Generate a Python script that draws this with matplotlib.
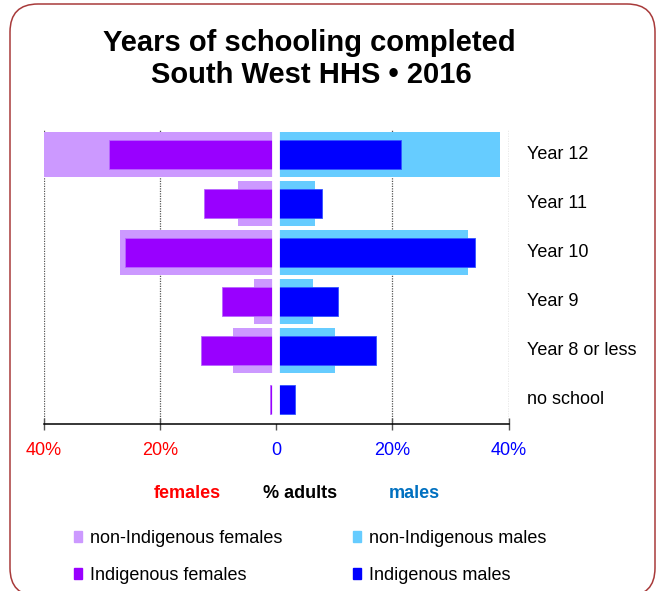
import numpy as np
import matplotlib.pyplot as plt
from matplotlib.patches import Patch, FancyBboxPatch

plt.rcParams['font.family'] = ['Liberation Sans', 'DejaVu Sans']

levels = ['Year 12', 'Year 11', 'Year 10', 'Year 9', 'Year 8 or less', 'no school']
nonind_f = [40.0, 6.5, 26.9, 3.8, 7.5, 0.0]
ind_f = [28.8, 12.4, 26.0, 9.4, 13.0, 1.0]
nonind_m = [38.5, 6.7, 33.0, 6.4, 10.1, 0.0]
ind_m = [21.4, 7.8, 34.2, 10.6, 17.1, 3.3]

tick_vals = [-40, -20, 0, 20, 40]
tick_text = ['40%', '20%', '0', '20%', '40%']
tick_cols = ['#FF0000', '#FF0000', '#0000FF', '#0000FF', '#0000FF']

c_nif = '#CC99FF'
c_if = '#9900FF'
c_nim = '#66CCFF'
c_im = '#0000FF'

fs = 13

fig = plt.figure(figsize=(6.63, 5.91), dpi=100)
ax = fig.add_axes([43.7/663, 1-424.3/591, 465/663, 294.5/591])

y = np.arange(len(levels))
ax.barh(y, -np.array(nonind_f), height=0.91, color=c_nif, zorder=2)
ax.barh(y, nonind_m, height=0.91, color=c_nim, zorder=2)
ax.barh(y, -np.array(ind_f), height=0.59, color=c_if, edgecolor='#B966FF', lw=0.6, zorder=2.1)
ax.barh(y, ind_m, height=0.59, color=c_im, edgecolor='#3355FF', lw=0.6, zorder=2.1)
ax.axvline(0, color='white', lw=5.6, zorder=2.3)

ax.set_xlim(-40, 40)
ax.set_ylim(5.5, -0.5)
for xv in [-40, -20, 20, 40]:
    ax.axvline(xv, color='#555555', lw=0.9, ls=(0, (1, 1)), zorder=1)

for s in ['left', 'right', 'top']:
    ax.spines[s].set_visible(False)
ax.spines['bottom'].set_linewidth(1.1)
ax.set_yticks([])
ax.set_xticks(tick_vals)
ax.set_xticklabels(tick_text, fontsize=fs)
for lbl, c in zip(ax.get_xticklabels(), tick_cols):
    lbl.set_color(c)
ax.tick_params(axis='x', direction='inout', length=8, width=1, color='#555555', pad=9)

for yi, name in zip(y, levels):
    ax.text(1.04, yi, name, transform=ax.get_yaxis_transform(), ha='left', va='center', fontsize=fs)

fig.text(309/663, 1-43/591, 'Years of schooling completed', ha='center', va='center',
         fontsize=21, fontweight='bold')
fig.text(311/663, 1-75/591, 'South West HHS \u2022 2016', ha='center', va='center',
         fontsize=21, fontweight='bold')

fig.text(187/663, 1-494/591, 'females', ha='center', va='center', fontsize=fs, fontweight='bold', color='#FF0000')
fig.text(300/663, 1-494/591, '% adults', ha='center', va='center', fontsize=fs, fontweight='bold', color='black')
fig.text(414/663, 1-494/591, 'males', ha='center', va='center', fontsize=fs, fontweight='bold', color='#0070C0')

handles = [Patch(color=c_nif, label='non-Indigenous females'),
           Patch(color=c_if, label='Indigenous females'),
           Patch(color=c_nim, label='non-Indigenous males'),
           Patch(color=c_im, label='Indigenous males')]
fig.legend(handles=handles, ncol=2, loc='upper left', bbox_to_anchor=(74/663, 1-530/591),
           frameon=False, fontsize=fs, handlelength=0.45, handleheight=0.6, handletextpad=0.45,
           columnspacing=3.9, labelspacing=1.1, borderpad=0, borderaxespad=0)

border = FancyBboxPatch((0.10, -0.05), 6.45, 5.92, boxstyle='round,pad=0,rounding_size=0.28',
                        transform=fig.dpi_scale_trans, facecolor='none', edgecolor='#A83A3A', lw=1.1)
fig.patches.append(border)

fig.savefig('out.png', dpi=100)
